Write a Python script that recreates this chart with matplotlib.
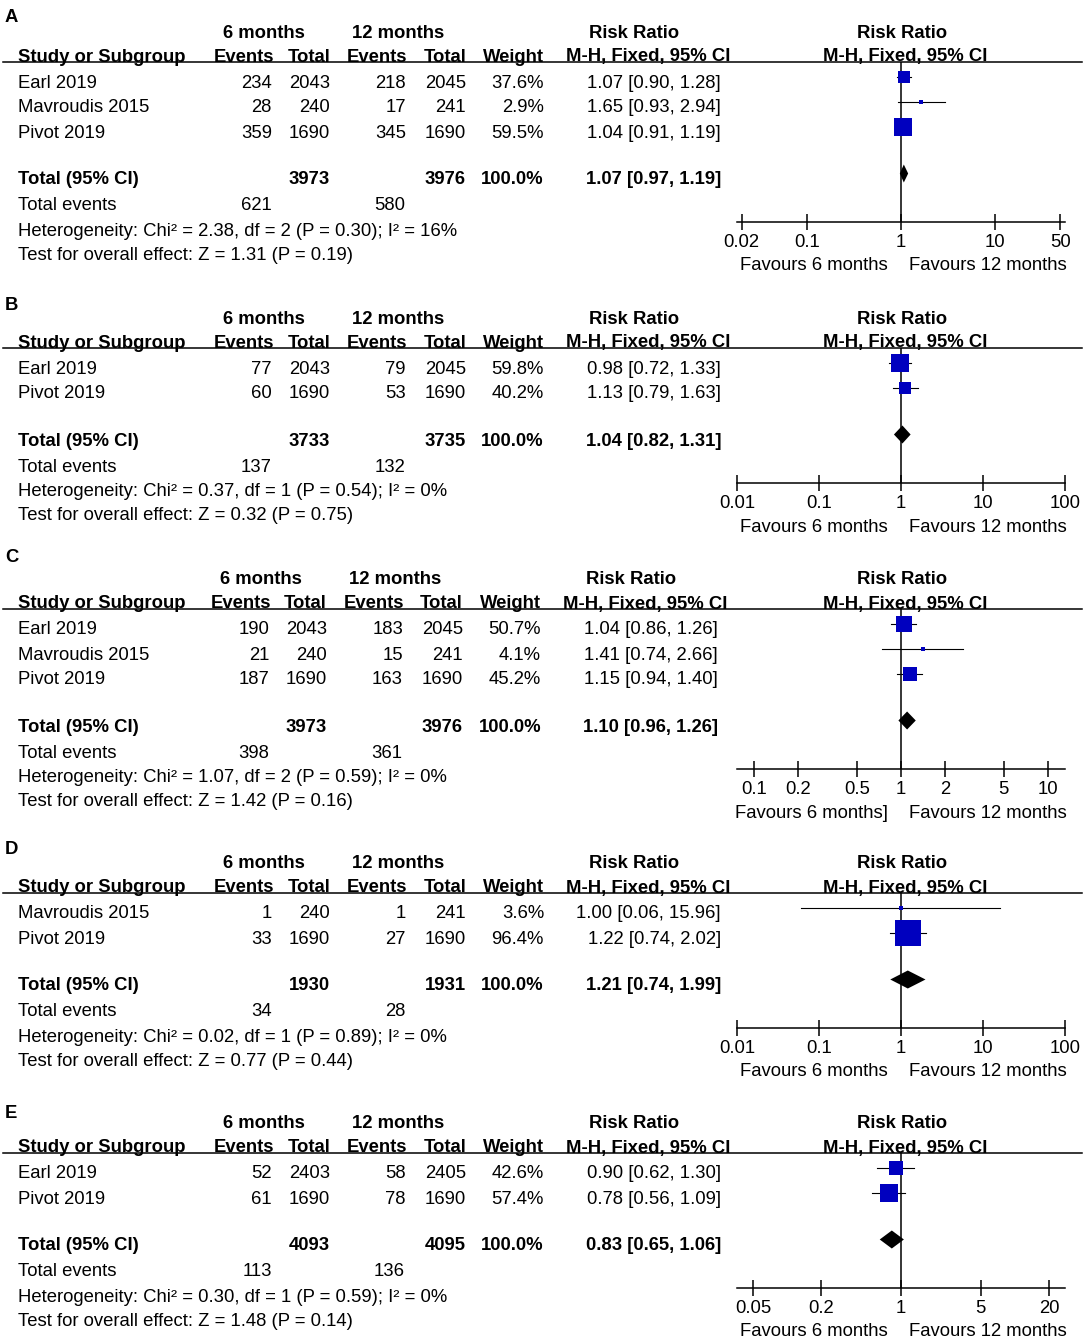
import matplotlib
matplotlib.use("Agg")
from matplotlib import pyplot as plt
from matplotlib.ticker import NullLocator

plt.rcParams['font.family'] = ['Liberation Sans', 'DejaVu Sans']

W, H = 1084, 1340

#####* data, one block per panel
studies_A = ["Earl 2019", "Mavroudis 2015", "Pivot 2019"]
events6_A = [234, 28, 359]
total6_A = [2043, 240, 1690]
events12_A = [218, 17, 345]
total12_A = [2045, 241, 1690]
weight_A = [37.6, 2.9, 59.5]
rr_A = [1.07, 1.65, 1.04]
lo_A = [0.90, 0.93, 0.91]
hi_A = [1.28, 2.94, 1.19]
pooled_A = [1.07, 0.97, 1.19]
sums_A = [3973, 3976, 621, 580]
het_A = "Heterogeneity: Chi² = 2.38, df = 2 (P = 0.30); I² = 16%"
z_A = "Test for overall effect: Z = 1.31 (P = 0.19)"
ticks_A = [0.02, 0.1, 1, 10, 50]

studies_B = ["Earl 2019", "Pivot 2019"]
events6_B = [77, 60]
total6_B = [2043, 1690]
events12_B = [79, 53]
total12_B = [2045, 1690]
weight_B = [59.8, 40.2]
rr_B = [0.98, 1.13]
lo_B = [0.72, 0.79]
hi_B = [1.33, 1.63]
pooled_B = [1.04, 0.82, 1.31]
sums_B = [3733, 3735, 137, 132]
het_B = "Heterogeneity: Chi² = 0.37, df = 1 (P = 0.54); I² = 0%"
z_B = "Test for overall effect: Z = 0.32 (P = 0.75)"
ticks_B = [0.01, 0.1, 1, 10, 100]

studies_C = ["Earl 2019", "Mavroudis 2015", "Pivot 2019"]
events6_C = [190, 21, 187]
total6_C = [2043, 240, 1690]
events12_C = [183, 15, 163]
total12_C = [2045, 241, 1690]
weight_C = [50.7, 4.1, 45.2]
rr_C = [1.04, 1.41, 1.15]
lo_C = [0.86, 0.74, 0.94]
hi_C = [1.26, 2.66, 1.40]
pooled_C = [1.10, 0.96, 1.26]
sums_C = [3973, 3976, 398, 361]
het_C = "Heterogeneity: Chi² = 1.07, df = 2 (P = 0.59); I² = 0%"
z_C = "Test for overall effect: Z = 1.42 (P = 0.16)"
ticks_C = [0.1, 0.2, 0.5, 1, 2, 5, 10]

studies_D = ["Mavroudis 2015", "Pivot 2019"]
events6_D = [1, 33]
total6_D = [240, 1690]
events12_D = [1, 27]
total12_D = [241, 1690]
weight_D = [3.6, 96.4]
rr_D = [1.00, 1.22]
lo_D = [0.06, 0.74]
hi_D = [15.96, 2.02]
pooled_D = [1.21, 0.74, 1.99]
sums_D = [1930, 1931, 34, 28]
het_D = "Heterogeneity: Chi² = 0.02, df = 1 (P = 0.89); I² = 0%"
z_D = "Test for overall effect: Z = 0.77 (P = 0.44)"
ticks_D = [0.01, 0.1, 1, 10, 100]

studies_E = ["Earl 2019", "Pivot 2019"]
events6_E = [52, 61]
total6_E = [2403, 1690]
events12_E = [58, 78]
total12_E = [2405, 1690]
weight_E = [42.6, 57.4]
rr_E = [0.90, 0.78]
lo_E = [0.62, 0.56]
hi_E = [1.30, 1.09]
pooled_E = [0.83, 0.65, 1.06]
sums_E = [4093, 4095, 113, 136]
het_E = "Heterogeneity: Chi² = 0.30, df = 1 (P = 0.59); I² = 0%"
z_E = "Test for overall effect: Z = 1.48 (P = 0.14)"
ticks_E = [0.05, 0.2, 1, 5, 20]

fav_left = ["Favours 6 months", "Favours 6 months", "Favours 6 months]",
            "Favours 6 months", "Favours 6 months"]
fav_right = "Favours 12 months"

panels = [
    dict(label="A", studies=studies_A, ev6=events6_A, n6=total6_A, ev12=events12_A, n12=total12_A,
         w=weight_A, rr=rr_A, lo=lo_A, hi=hi_A, pooled=pooled_A, sums=sums_A, het=het_A, z=z_A, ticks=ticks_A),
    dict(label="B", studies=studies_B, ev6=events6_B, n6=total6_B, ev12=events12_B, n12=total12_B,
         w=weight_B, rr=rr_B, lo=lo_B, hi=hi_B, pooled=pooled_B, sums=sums_B, het=het_B, z=z_B, ticks=ticks_B),
    dict(label="C", studies=studies_C, ev6=events6_C, n6=total6_C, ev12=events12_C, n12=total12_C,
         w=weight_C, rr=rr_C, lo=lo_C, hi=hi_C, pooled=pooled_C, sums=sums_C, het=het_C, z=z_C, ticks=ticks_C),
    dict(label="D", studies=studies_D, ev6=events6_D, n6=total6_D, ev12=events12_D, n12=total12_D,
         w=weight_D, rr=rr_D, lo=lo_D, hi=hi_D, pooled=pooled_D, sums=sums_D, het=het_D, z=z_D, ticks=ticks_D),
    dict(label="E", studies=studies_E, ev6=events6_E, n6=total6_E, ev12=events12_E, n12=total12_E,
         w=weight_E, rr=rr_E, lo=lo_E, hi=hi_E, pooled=pooled_E, sums=sums_E, het=het_E, z=z_E, ticks=ticks_E),
]

#####* layout (pixels from the top left)
tops = [31, 317, 578, 862, 1122]
letter_y = [15, 303, 556, 847, 1112]
shift = [0, 0, -3, 0, 0]
xlims = [(0.0178, 56.0), (0.01, 100), (0.0766, 13.05), (0.01, 100), (0.0362, 27.6)]
AX_L, AX_R = 737, 1065
FS = 13.3
BLUE = "#0000BF"

fig = plt.figure(figsize=(W / 100, H / 100), dpi=100)
ax0 = fig.add_axes([0, 0, 1, 1])
ax0.set_xlim(0, W)
ax0.set_ylim(H, 0)
ax0.axis("off")


def txt(x, y, s, ha="left", bold=False, size=FS):
    # y is the centre of the capital letters
    ax0.text(x, y + 6.5, s, ha=ha, va="baseline", fontsize=size,
             fontweight="bold" if bold else "normal")


def ci_text(r, l, h):
    return f"{r:.2f} [{l:.2f}, {h:.2f}]"


for k, p in enumerate(panels):
    t = tops[k]
    d = shift[k]
    n = len(p["studies"])
    rows_y = [t + 50 + 25 * i for i in range(n)]
    total_y = rows_y[-1] + 47
    axis_y = total_y + 44
    line_y = t + 31

    txt(5, letter_y[k], p["label"], bold=True)

    # header
    txt(264 + d, t, "6 months", ha="center", bold=True)
    txt(398 + d, t, "12 months", ha="center", bold=True)
    txt(634 + d, t, "Risk Ratio", ha="center", bold=True)
    txt(902, t, "Risk Ratio", ha="center", bold=True)
    h2 = t + 24
    txt(18, h2, "Study or Subgroup", bold=True)
    txt(274 + d, h2, "Events", ha="right", bold=True)
    txt(330 + d, h2, "Total", ha="right", bold=True)
    txt(407 + d, h2, "Events", ha="right", bold=True)
    txt(466 + d, h2, "Total", ha="right", bold=True)
    txt(544 + d, h2, "Weight", ha="right", bold=True)
    txt(648 + d, h2, "M-H, Fixed, 95% CI", ha="center", bold=True)
    txt(905, h2, "M-H, Fixed, 95% CI", ha="center", bold=True)
    ax0.plot([3, 1082], [line_y, line_y], color="black", lw=1.1)

    # study rows
    for i in range(n):
        y = rows_y[i]
        txt(18, y, p["studies"][i])
        txt(272 + d, y, str(p["ev6"][i]), ha="right")
        txt(330 + d, y, str(p["n6"][i]), ha="right")
        txt(406 + d, y, str(p["ev12"][i]), ha="right")
        txt(466 + d, y, str(p["n12"][i]), ha="right")
        txt(544 + d, y, f"{p['w'][i]:.1f}%", ha="right")
        txt(721 + d, y, ci_text(p["rr"][i], p["lo"][i], p["hi"][i]), ha="right")

    # totals
    txt(18, total_y, "Total (95% CI)", bold=True)
    txt(330 + d, total_y, str(p["sums"][0]), ha="right", bold=True)
    txt(466 + d, total_y, str(p["sums"][1]), ha="right", bold=True)
    txt(544 + d, total_y, f"{sum(p['w']):.1f}%", ha="right", bold=True)
    txt(721 + d, total_y, ci_text(*p["pooled"]), ha="right", bold=True)
    txt(18, total_y + 26, "Total events")
    txt(272 + d, total_y + 26, str(p["sums"][2]), ha="right")
    txt(405 + d, total_y + 26, str(p["sums"][3]), ha="right")
    txt(18, total_y + 51, p["het"])
    txt(18, total_y + 75, p["z"])

    # forest plot
    ax = fig.add_axes([AX_L / W, 1 - axis_y / H, (AX_R - AX_L) / W, (axis_y - line_y) / H])
    ax.patch.set_visible(False)
    ax.set_xscale("log")
    ax.set_xlim(*xlims[k])
    ax.set_ylim(axis_y, line_y)
    for s in ["top", "left", "right"]:
        ax.spines[s].set_visible(False)
    ax.spines["bottom"].set_linewidth(1.1)
    ax.set_yticks([])
    ax.xaxis.set_minor_locator(NullLocator())
    ax.set_xticks(p["ticks"])
    ax.set_xticklabels([f"{v:g}" for v in p["ticks"]], fontsize=FS)
    ax.tick_params(axis="x", direction="inout", length=11, width=1.1, pad=3.0)
    ax.axvline(1, color="black", lw=1.1, zorder=1)

    for i in range(n):
        ym = rows_y[i] - 4.5
        ax.plot([p["lo"][i], p["hi"][i]], [ym, ym], color="black", lw=0.8, zorder=2)
        side = 2.8 + 0.25 * p["w"][i]
        ax.plot(p["rr"][i], ym, marker="s", ms=side * 0.72, mew=0, color=BLUE,
                linestyle="none", zorder=3, clip_on=False)

    est, plo, phi = p["pooled"]
    yd = total_y - 4.5
    hd = 9
    ax.fill([plo, est, phi, est], [yd, yd - hd, yd, yd + hd], color="black", lw=0, zorder=3)

    fy = axis_y + 42
    txt(888, fy, fav_left[k], ha="right")
    txt(909, fy, fav_right, ha="left")

fig.savefig("out.png", dpi=100)
